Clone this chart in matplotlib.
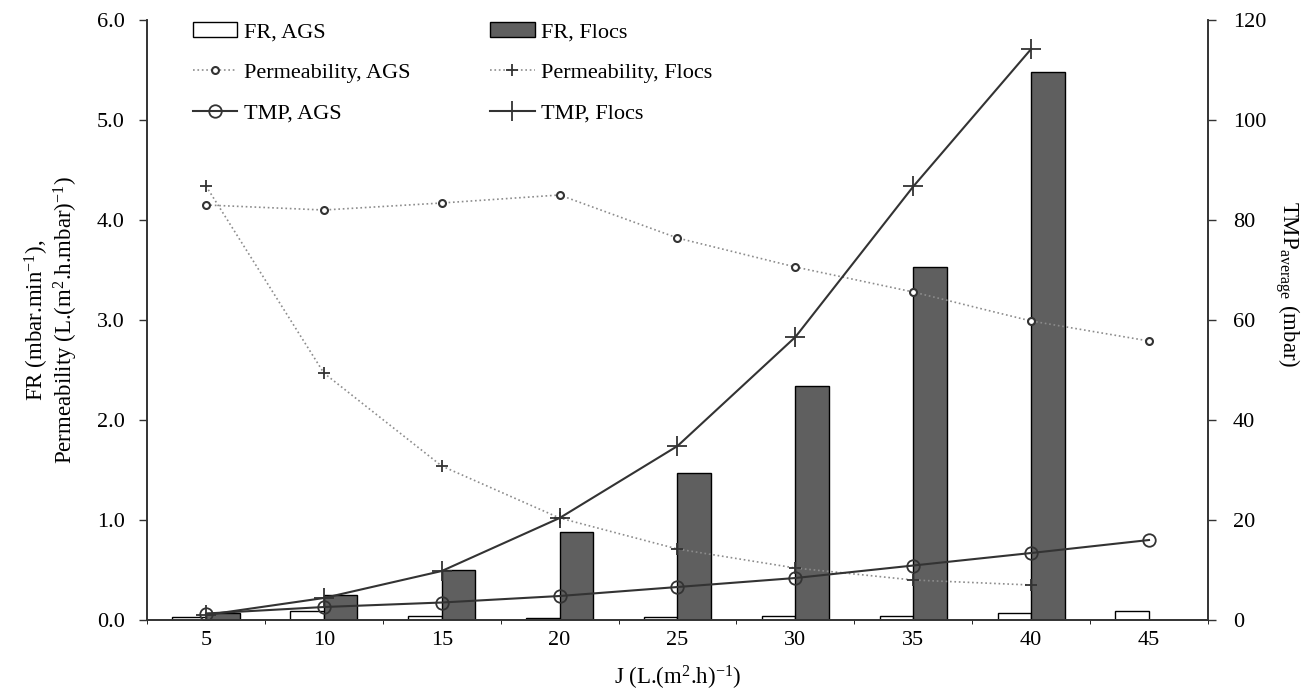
import numpy as np
import matplotlib
matplotlib.use("Agg")
import matplotlib.pyplot as plt

plt.rcParams['font.family'] = ['Liberation Serif', 'DejaVu Serif']
plt.rcParams['mathtext.fontset'] = 'custom'
plt.rcParams['mathtext.rm'] = 'Liberation Serif'
plt.rcParams['mathtext.it'] = 'Liberation Serif:italic'

# data
flux = [5, 10, 15, 20, 25, 30, 35, 40, 45]
fr_ags = [0.035, 0.095, 0.045, 0.02, 0.035, 0.045, 0.045, 0.075, 0.09]
fr_flocs = [0.07, 0.25, 0.50, 0.88, 1.47, 2.34, 3.53, 5.48, np.nan]
perm_ags = [4.15, 4.10, 4.17, 4.25, 3.82, 3.53, 3.28, 2.99, 2.79]
perm_flocs = [4.34, 2.47, 1.54, 1.02, 0.71, 0.52, 0.40, 0.35, np.nan]
tmp_ags = [1.3, 2.6, 3.5, 4.8, 6.6, 8.4, 10.9, 13.4, 16.0]
tmp_flocs = [1.0, 4.4, 9.8, 20.4, 34.8, 56.6, 86.7, 114.2, np.nan]

x = np.arange(len(flux))
bw = 0.285
fs = 16

fig = plt.figure(figsize=(13.14, 6.99), dpi=100)
ax = fig.add_axes([0.1119, 0.1130, 0.9193 - 0.1119, 0.9714 - 0.1130])
ax2 = ax.twinx()

b1 = ax.bar(x - bw, fr_ags, width=bw, align='edge', color='white',
            edgecolor='black', linewidth=1.0, label='FR, AGS')
b2 = ax.bar(x, fr_flocs, width=bw, align='edge', color='#5f5f5f',
            edgecolor='black', linewidth=1.0, label='FR, Flocs')

l1, = ax.plot(x, perm_ags, linestyle=':', color='#8c8c8c', linewidth=1.2,
              marker='o', markersize=5, markerfacecolor='white',
              markeredgecolor='#333333', markeredgewidth=1.5,
              label='Permeability, AGS')
l2, = ax.plot(x, perm_flocs, linestyle=':', color='#8c8c8c', linewidth=1.2,
              marker='+', markersize=8, markeredgecolor='#333333',
              markeredgewidth=1.3, label='Permeability, Flocs')

l3, = ax2.plot(x, tmp_ags, linestyle='-', color='#333333', linewidth=1.5,
               marker='o', markersize=9, markerfacecolor='none',
               markeredgecolor='#333333', markeredgewidth=1.3,
               label='TMP, AGS')
l4, = ax2.plot(x, tmp_flocs, linestyle='-', color='#333333', linewidth=1.5,
               marker='+', markersize=14, markeredgecolor='#333333',
               markeredgewidth=1.3, label='TMP, Flocs')

ax.set_xlim(-0.5, len(flux) - 0.5)
ax.set_ylim(0, 6.0)
ax2.set_ylim(0, 120)
ax.set_yticks(np.arange(0, 6.01, 1.0))
ax.set_yticklabels([f"{v:.1f}" for v in np.arange(0, 6.01, 1.0)])
ax2.set_yticks(np.arange(0, 121, 20))
ax.set_xticks(x)
ax.set_xticklabels([str(f) for f in flux])
ax.set_xticks(np.arange(-0.5, len(flux), 1.0), minor=True)

for a in (ax, ax2):
    a.spines['top'].set_visible(False)
    a.tick_params(labelsize=fs, width=1.0, color='#333333')
    for s in a.spines.values():
        s.set_color('#333333')
        s.set_linewidth(1.2)
ax.tick_params(axis='x', which='major', length=0, pad=8)
ax.tick_params(axis='x', which='minor', length=3)
ax.tick_params(axis='y', length=6, pad=10)
ax2.tick_params(axis='y', length=6, pad=12)

ax.set_xlabel(r"J (L.(m$^{\mathrm{2}}$.h)$^{\mathrm{-1}}$)", fontsize=fs + 0.5, labelpad=10)
ax.set_ylabel("FR (mbar.min$^{\\mathrm{-1}}$),\n"
              "Permeability (L.(m$^{\\mathrm{2}}$.h.mbar)$^{\\mathrm{-1}}$)",
              fontsize=fs + 0.5, labelpad=12, linespacing=1.05)
ax2.set_ylabel(r"TMP$_{\mathrm{average}}$ (mbar)", fontsize=fs + 0.5,
               rotation=270, labelpad=26)
ax2.yaxis.set_label_coords(1.088, 0.56)

handles = [b1, l1, l3, b2, l2, l4]
ax2.legend(handles=handles, labels=[h.get_label() for h in handles],
           ncol=2, loc='upper left', bbox_to_anchor=(0.043, 0.997),
           frameon=False, fontsize=fs, borderaxespad=0, borderpad=0,
           handlelength=2.0, handletextpad=0.3, labelspacing=0.9,
           columnspacing=3.6)

fig.savefig("out.png", dpi=100)
